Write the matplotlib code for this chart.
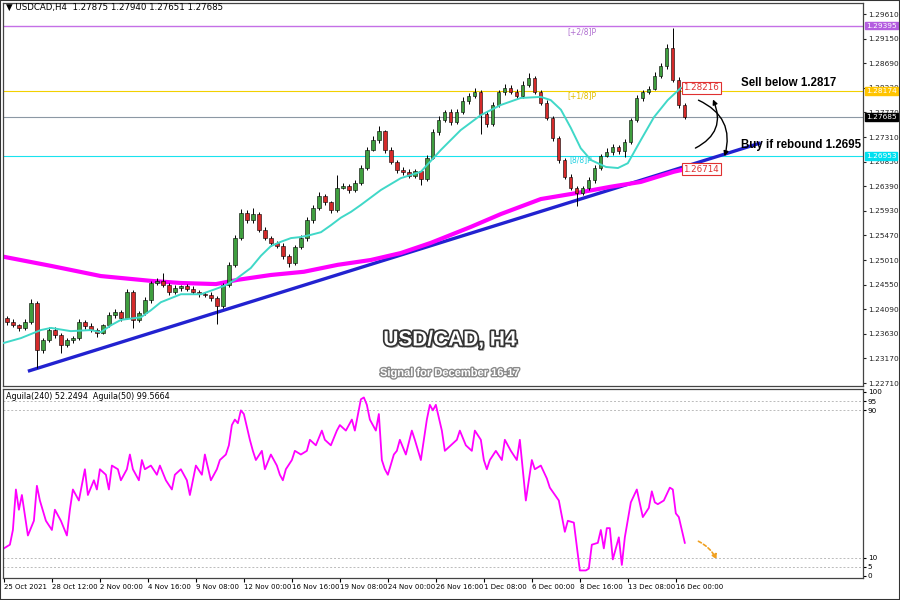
import matplotlib
matplotlib.use("Agg")
import matplotlib.pyplot as plt
import matplotlib.patheffects as pe
from matplotlib.patches import FancyArrowPatch, Rectangle
from matplotlib.transforms import blended_transform_factory
import numpy as np

# H4 candles, one drawn per 2 bars (bar index on x)
first_open = 1.2392
closes = [
    1.2385, 1.2379, 1.2374, 1.2385, 1.2421, 1.2333, 1.2351, 1.2370, 1.2361, 1.2342,
    1.2351, 1.2355, 1.2385, 1.2378, 1.2370, 1.2365, 1.2379, 1.2398, 1.2404, 1.2393,
    1.2441, 1.2389, 1.2402, 1.2426, 1.2458, 1.2462, 1.2454, 1.2441, 1.2449, 1.2452,
    1.2447, 1.2441, 1.2437, 1.2436, 1.2430, 1.2415, 1.2454, 1.2492, 1.2542, 1.2589,
    1.2576, 1.2587, 1.2557, 1.2542, 1.2533, 1.2527, 1.2509, 1.2495, 1.2525, 1.2542,
    1.2576, 1.2598, 1.2621, 1.2609, 1.2595, 1.2636, 1.2639, 1.2632, 1.2645, 1.2673,
    1.2707, 1.2725, 1.2742, 1.2707, 1.2684, 1.2669, 1.2666, 1.2658, 1.2667, 1.2653,
    1.2692, 1.2740, 1.2763, 1.2778, 1.2759, 1.2778, 1.2798, 1.2808, 1.2815, 1.2774,
    1.2755, 1.2791, 1.2815, 1.2823, 1.2815, 1.2808, 1.2828, 1.2841, 1.2815, 1.2795,
    1.2767, 1.2729, 1.2688, 1.2656, 1.2636, 1.2626, 1.2636, 1.2651, 1.2673, 1.2696,
    1.2703, 1.2712, 1.2705, 1.2722, 1.2763, 1.2804, 1.2815, 1.2821, 1.2845, 1.2864,
    1.2897, 1.2838, 1.2791, 1.27685,
]
# wick lengths in pips
wick_up = [
    4, 5, 3, 6, 8, 3, 4, 5, 6, 3,
    5, 4, 6, 3, 5, 4, 3, 5, 6, 4,
    6, 3, 4, 5, 4, 6, 15, 4, 5, 3,
    4, 6, 3, 4, 5, 3, 4, 6, 5, 7,
    6, 12, 4, 5, 3, 4, 6, 3, 4, 5,
    6, 5, 8, 4, 3, 24, 6, 4, 5, 6,
    5, 7, 9, 3, 6, 4, 5, 6, 4, 3,
    5, 6, 7, 4, 6, 5, 8, 6, 7, 4,
    5, 6, 4, 7, 5, 6, 8, 10, 4, 3,
    5, 4, 3, 4, 5, 4, 3, 5, 6, 4,
    8, 5, 4, 6, 4, 5, 4, 6, 7, 6,
    8, 37, 6, 3,
]
wick_dn = [
    5, 4, 6, 3, 4, 34, 5, 4, 6, 15,
    4, 5, 3, 6, 4, 8, 3, 4, 5, 6,
    3, 15, 4, 3, 5, 4, 3, 5, 4, 6,
    4, 3, 5, 4, 6, 34, 3, 4, 5, 4,
    6, 5, 4, 3, 5, 4, 6, 7, 3, 4,
    5, 6, 4, 5, 6, 4, 3, 5, 4, 3,
    4, 3, 5, 6, 4, 5, 6, 4, 3, 12,
    4, 3, 5, 4, 6, 3, 4, 5, 4, 37,
    5, 4, 3, 5, 4, 6, 4, 3, 4, 5,
    4, 5, 6, 4, 5, 24, 4, 5, 6, 4,
    3, 5, 6, 12, 4, 3, 5, 4, 3, 4,
    5, 4, 6, 3,
]

# moving averages (bar index, price)
ma_fast_x = [0, 5.7, 12.3, 15.7, 22.3, 29, 32.3, 35.7, 39, 45.7, 49, 52.3, 59, 65.7, 70.7, 74,
             77.3, 82.3, 85.7, 89, 92.3, 95.7, 99, 102.3, 105.7, 109, 112.3, 115.7, 119, 125.7,
             132.3, 139, 145.7, 152.3, 159, 165.7, 172.3, 179, 182.3, 185.7, 189, 192.3, 195.7,
             200.7, 204.7, 208, 212.3, 216.7, 221.3, 225.7]
ma_fast = [1.2346, 1.2355, 1.2370, 1.2374, 1.2368, 1.2370, 1.2366, 1.2379, 1.2389, 1.2394,
           1.2407, 1.2422, 1.2437, 1.2437, 1.2447, 1.2454, 1.2465, 1.2486, 1.2509, 1.2527,
           1.2535, 1.2542, 1.2544, 1.2548, 1.2553, 1.2566, 1.2580, 1.2591, 1.2604, 1.2632,
           1.2654, 1.2666, 1.2707, 1.2744, 1.2772, 1.2791, 1.2804, 1.2806, 1.2800, 1.2782,
           1.2748, 1.2710, 1.2688, 1.2675, 1.2673, 1.2682, 1.2725, 1.2768, 1.2800, 1.2823]
ma_slow_x = [0, 15.7, 32.3, 49, 59, 70.7, 78, 89, 100, 111.3, 122.3, 132.3, 142.3, 155.7,
             165.7, 179, 190.7, 202.3, 212.3, 223.3, 227.3]
ma_slow = [1.2507, 1.2490, 1.2471, 1.2462, 1.2458, 1.2456, 1.2464, 1.2473, 1.2479, 1.2492,
           1.2501, 1.2514, 1.2533, 1.2563, 1.2587, 1.2615, 1.2626, 1.2638, 1.2647, 1.2666, 1.2671]

trend_x = [8, 252.3]
trend_y = [1.2293, 1.2720]

levels = {"1.29395": (1.29395, "#b45ee0"), "1.28174": (1.28174, "#ffc400"),
          "1.27685": (1.27685, "#000000"), "1.26953": (1.26953, "#00e0f0")}
line_colors = {"1.29395": "#c470e6", "1.28174": "#f2d000", "1.27685": "#8c98a4", "1.26953": "#19e3ee"}

price_ticks = [1.29610, 1.29150, 1.28690, 1.28230, 1.27770, 1.27310, 1.26850, 1.26390,
               1.25930, 1.25470, 1.25010, 1.24550, 1.24090, 1.23630, 1.23170, 1.22710]

# Aguila(50) oscillator
ag_x = [0, 2, 3, 4, 5, 6, 8, 10, 11, 12, 14, 16, 17, 19, 21, 22, 23, 25, 27, 28, 30, 31, 32, 34,
        35, 36, 38, 39, 41, 42, 43, 45, 46, 47, 49, 51, 52, 54, 56, 57, 59, 61, 62, 64, 66, 67,
        69, 71, 72, 74, 75, 76, 77, 78, 79, 80, 82, 83, 84, 86, 87, 89, 91, 92, 93, 94, 96, 97,
        99, 101, 102, 104, 106, 107, 109, 111, 112, 114, 116, 117, 119, 120, 121, 122, 124, 125,
        126, 127, 128, 130, 131, 132, 134, 136, 137, 139, 140, 141, 142, 143, 144, 146, 147, 149,
        151, 152, 154, 156, 157, 159, 160, 161, 162, 164, 166, 167, 169, 171, 172, 174, 176, 177,
        179, 181, 182, 185, 187, 188, 190, 191, 192, 194, 195, 196, 198, 199, 200, 201, 202, 203,
        205, 206, 207, 209, 211, 213, 215, 216, 217, 218, 220, 222, 223, 224, 225, 227]
ag_v = [15, 17, 25, 47, 36, 44, 22, 30, 49, 41, 30, 25, 36, 30, 22, 36, 47, 41, 58, 44, 52, 47, 58, 55,
        47, 60, 58, 52, 58, 66, 58, 52, 63, 58, 60, 55, 60, 52, 47, 55, 58, 52, 44, 60, 55, 66,
        52, 58, 63, 66, 71, 82, 85, 83, 90, 88, 74, 68, 63, 68, 58, 66, 60, 55, 52, 58, 63, 68,
        66, 68, 74, 71, 79, 74, 71, 79, 82, 79, 85, 79, 96, 97, 93, 85, 79, 88,
        63, 58, 55, 66, 68, 74, 66, 79, 74, 63, 74, 85, 93, 90, 93, 79, 68, 71,
        74, 79, 71, 68, 79, 74, 63, 58, 63, 68, 63, 74, 68, 63, 74, 41, 63, 58,
        60, 53, 48, 41, 24, 30, 29, 16, 3, 3, 4, 17, 18, 25, 15, 26, 26, 9,
        21, 6, 21, 40, 47, 32, 37, 46, 40, 39, 41, 48, 47, 34, 32, 18]

date_labels = ["25 Oct 2021", "28 Oct 12:00", "2 Nov 00:00", "4 Nov 16:00", "9 Nov 08:00",
               "12 Nov 00:00", "16 Nov 16:00", "19 Nov 08:00", "24 Nov 00:00", "26 Nov 16:00",
               "1 Dec 08:00", "6 Dec 00:00", "8 Dec 16:00", "13 Dec 08:00", "16 Dec 00:00"]

closes = np.array(closes)
opens = np.concatenate([[first_open], closes[:-1]])
xs = 1 + 2 * np.arange(len(closes))
highs = np.maximum(opens, closes) + np.array(wick_up) * 0.0001
lows = np.minimum(opens, closes) - np.array(wick_dn) * 0.0001

fig = plt.figure(figsize=(9, 6), dpi=100)
ax = fig.add_axes([3 / 900, 214 / 600, 860 / 900, 383 / 600])
ax2 = fig.add_axes([3 / 900, 22 / 600, 860 / 900, 189 / 600])
xmin, xmax = -0.3, 286.4
for a in (ax, ax2):
    a.set_xlim(xmin, xmax)
    for s in a.spines.values():
        s.set_color("#444444")
        s.set_linewidth(0.9)
ax.set_ylim(1.22654, 1.29816)
ax2.set_ylim(-1.1, 101.6)

# horizontal levels
for key, (val, col) in levels.items():
    ax.axhline(val, color=line_colors[key], lw=1.0 if key == "1.29395" else 0.8, zorder=1)

ax.text(188, 1.2929, "[+2/8]P", color="#b070d0", fontsize=5.5, va="center")
ax.text(188, 1.2808, "[+1/8]P", color="#e0bc00", fontsize=5.5, va="center")
ax.text(188.5, 1.2688, "[8/8]P", color="#22d0e0", fontsize=5.5, va="center")

# trend line and moving averages
ax.plot(trend_x, trend_y, color="#2222d0", lw=2.4, zorder=2, solid_capstyle="butt")
ax.plot(ma_slow_x, ma_slow, color="#ff00ff", lw=3.0, zorder=2)
ax.plot(ma_fast_x, ma_fast, color="#40d8c8", lw=1.4, zorder=5)

# candles
body = closes - opens
body = np.where(np.abs(body) < 0.00004, np.where(body >= 0, 0.00004, -0.00004), body)
up = closes >= opens
ax.vlines(xs, lows, highs, color="black", lw=0.7, zorder=3)
ax.bar(xs[up], body[up], bottom=opens[up], width=1.1, color="#3f9e3f",
       edgecolor="black", linewidth=0.4, zorder=4)
ax.bar(xs[~up], body[~up], bottom=opens[~up], width=1.1, color="#d42a2a",
       edgecolor="black", linewidth=0.4, zorder=4)

# MA value tags
for x0, v, txt in [(ma_fast_x[-1], ma_fast[-1], "1.28216"), (ma_slow_x[-1], ma_slow[-1], "1.26714")]:
    ax.plot([x0, 226.3], [v, v], color="#e03030", lw=0.8, zorder=6)
    ax.text(226.5, v, txt, color="#e03030", fontsize=6.3, va="center", zorder=7,
            bbox=dict(boxstyle="square,pad=0.2", fc="white", ec="#e03030", lw=0.8))

ax.text(245.7, 1.2832, "Sell below 1.2817", fontsize=8.3, fontweight="bold",
        family="Liberation Sans", va="center")
ax.text(245.7, 1.2716, "Buy if rebound 1.2695", fontsize=8.3, fontweight="bold",
        family="Liberation Sans", va="center")

# curved arrows
ax.add_patch(FancyArrowPatch((230.7, 1.2802), (240.0, 1.2690), connectionstyle="arc3,rad=-0.45",
                             arrowstyle="-|>", mutation_scale=7, color="black", lw=1.0, zorder=6))
ax.add_patch(FancyArrowPatch((229.7, 1.2708), (236.0, 1.2806), connectionstyle="arc3,rad=0.5",
                             arrowstyle="-|>", mutation_scale=7, color="black", lw=1.0, zorder=6))

# price axis
ax.yaxis.tick_right()
ax.set_yticks(price_ticks)
ax.set_yticklabels(["%.5f" % p for p in price_ticks])
ax.tick_params(axis="y", labelsize=5.3, length=2.5, pad=1.5, colors="#222222")
ax.set_xticks([])
tr = blended_transform_factory(ax.transAxes, ax.transData)
for key, (val, col) in levels.items():
    ax.text(1.0035, val, key, transform=tr, fontsize=5.3, color="white", va="center",
            ha="left", clip_on=False, zorder=10,
            bbox=dict(boxstyle="square,pad=0.12", fc=col, ec=col))

# oscillator panel
for lv in (95, 90, 10, 5):
    ax2.axhline(lv, color="#bbbbbb", lw=0.7, ls=(0, (2, 2)))
ax2.plot(ag_x, ag_v, color="#ff00ff", lw=1.3)
ax2.add_patch(FancyArrowPatch((230.7, 19.5), (238.0, 7.5), connectionstyle="arc3,rad=-0.2",
                              arrowstyle="-|>", mutation_scale=7, color="#f0a020", lw=1.2,
                              linestyle=(0, (2, 1.5))))
ax2.text(0.003, 0.985, "Aguila(240) 52.2494  Aguila(50) 99.5664", transform=ax2.transAxes,
         fontsize=5.8, va="top")
ax2.yaxis.tick_right()
ax2.set_yticks([0, 5, 10, 90, 95, 100])
ax2.tick_params(axis="y", labelsize=5.2, length=2, pad=1.5)
ax2.set_xticks(np.arange(len(date_labels)) * 16)
ax2.set_xticklabels(date_labels)
ax2.tick_params(axis="x", labelsize=5.0, length=3, pad=1.5, direction="out")
for lbl in ax2.get_xticklabels():
    lbl.set_horizontalalignment("left")

# headers and titles
fig.text(6 / 900, 1 - 7 / 600, "\u25bc USDCAD,H4  1.27875 1.27940 1.27651 1.27685",
         fontsize=6.2, va="center")
fig.text(0.5, 1 - 340 / 600, "USD/CAD, H4", fontsize=15, fontweight="bold",
         family="Liberation Sans", color="white", ha="center", va="center",
         path_effects=[pe.withSimplePatchShadow(offset=(1.5, -1.5), shadow_rgbFace="#888888", alpha=0.8),
                       pe.Stroke(linewidth=2.5, foreground="#333333"), pe.Normal()])
fig.text(0.5, 1 - 373 / 600, "Signal for December 16-17", fontsize=8, fontweight="bold",
         family="Liberation Sans", color="white", ha="center", va="center",
         path_effects=[pe.Stroke(linewidth=2, foreground="#8a8a8a"), pe.Normal()])

fig.patches.append(Rectangle((0, 0), 1, 1, transform=fig.transFigure, fill=False,
                             edgecolor="#333333", lw=1.5))

fig.savefig("out.png", dpi=100)
